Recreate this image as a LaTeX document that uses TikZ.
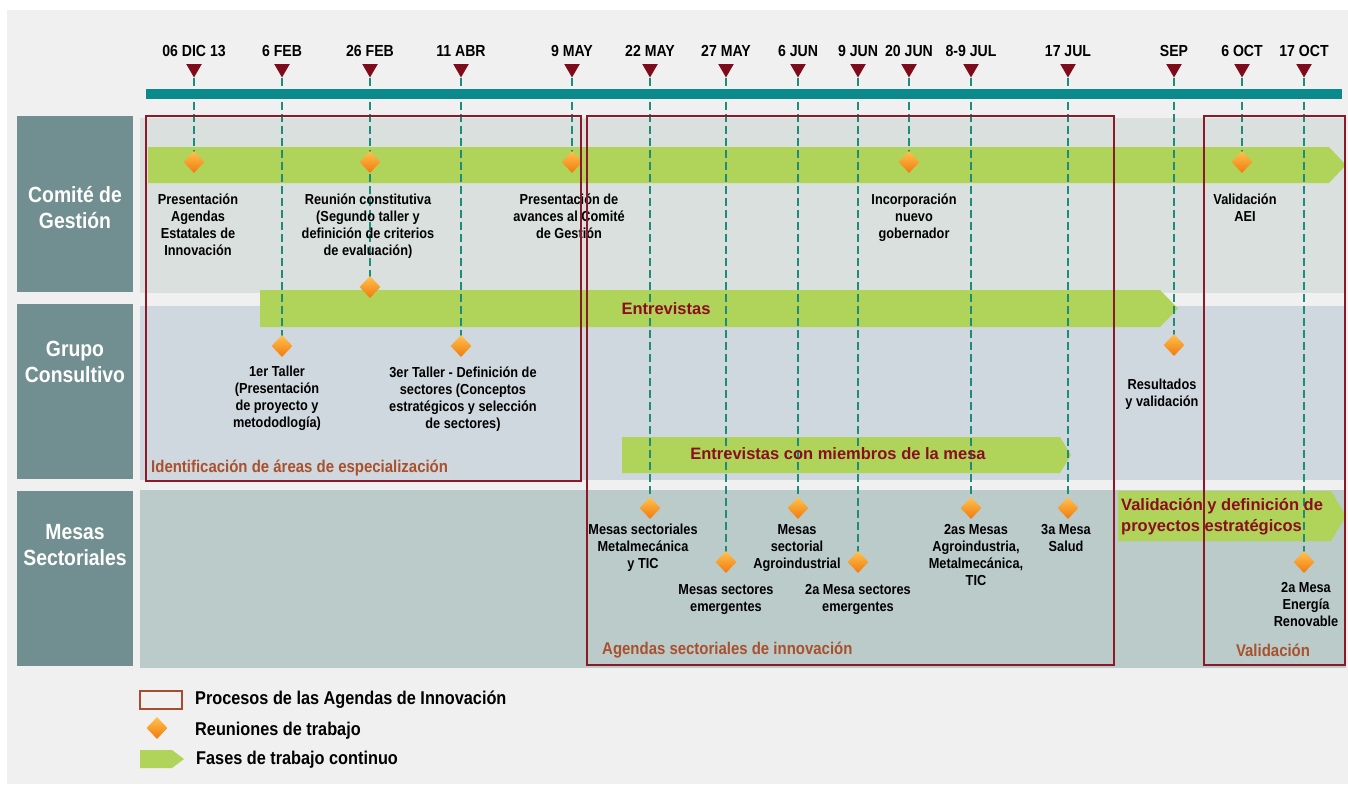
\documentclass[tikz,border=0pt]{standalone}
\usepackage{fontspec}
\setmainfont{Liberation Sans}[FakeStretch=0.88]
\newfontfamily\phasefont{Liberation Sans}
\usepackage{tikz}
\usetikzlibrary{positioning, shapes.geometric}

\definecolor{pagegray}{HTML}{F0F0F0}
\definecolor{rowtitle}{HTML}{718F90}
\definecolor{rowone}{HTML}{D9E0DE}
\definecolor{rowtwo}{HTML}{D0D8DF}
\definecolor{rowthree}{HTML}{BBCBCA}
\definecolor{axisteal}{HTML}{0B8A8E}
\definecolor{tickred}{HTML}{7E0B1B}
\definecolor{dashteal}{HTML}{1F8C7B}
\definecolor{phasegreen}{HTML}{B0D35A}
\definecolor{procred}{HTML}{8C1828}
\definecolor{proclabel}{HTML}{A9502C}
\definecolor{phasetext}{HTML}{8A0E1E}
\definecolor{legendred}{HTML}{A84B30}
\definecolor{meettop}{HTML}{FFC24E}
\definecolor{meetbot}{HTML}{F07A0E}

\pgfdeclarelayer{back}
\pgfdeclarelayer{mid}
\pgfdeclarelayer{front}
\pgfsetlayers{back,mid,main,front}

\tikzset{
  datelbl/.style={inner sep=0pt, font=\bfseries\fontsize{16}{18}\selectfont},
  datemark/.style={regular polygon, regular polygon sides=3, shape border rotate=180, fill=tickred, minimum size=18pt, inner sep=0pt},
  meetdia/.style={diamond, minimum width=21pt, minimum height=22pt, inner sep=0pt, top color=meettop, bottom color=meetbot},
  notetxt/.style={align=center, inner sep=0pt, font=\bfseries\fontsize{14.5}{17}\selectfont},
  rowbox/.style={fill=rowtitle, minimum width=116pt, minimum height=176pt, inner sep=0pt},
  rowtxt/.style={align=center, inner sep=0pt, text=white, font=\bfseries\fontsize{22}{26}\selectfont},
  proctxt/.style={inner sep=0pt, text=proclabel, font=\bfseries\fontsize{17}{19}\selectfont},
  phasetxt/.style={inner sep=0pt, text=phasetext, font=\phasefont\bfseries\fontsize{16.5}{21}\selectfont},
  guideline/.style={dashteal, line width=1.5pt, dash pattern=on 8pt off 4pt},
  procbox/.style={procred, line width=1.6pt},
  lgtxt/.style={anchor=west, inner sep=0pt, font=\bfseries\fontsize{18.5}{20}\selectfont},
}

\begin{document}
\begin{tikzpicture}[x=1pt, y=-1pt]
  \useasboundingbox (0,0) rectangle (1348,784);

  \begin{pgfonlayer}{back}
    \fill[white] (0,0) rectangle (1348,784);
    \fill[pagegray] (7,10) rectangle (1348,784);
    \fill[rowone] (140,118) rectangle (1346,293);
    \fill[rowtwo] (140,306) rectangle (1346,480);
    \fill[rowthree] (140,490) rectangle (1346,668);
    \fill[phasegreen] (148,147) -- (1329,147) -- (1346,165) -- (1329,183) -- (148,183) -- cycle;
    \fill[phasegreen] (260,290) -- (1160,290) -- (1178,308.5) -- (1160,327) -- (260,327) -- cycle;
    \fill[phasegreen] (622,437) -- (1060,437) -- (1071,455) -- (1060,473) -- (622,473) -- cycle;
    \fill[phasegreen] (1118,491) -- (1331,491) -- (1346,516) -- (1331,541) -- (1118,541) -- cycle;
  \end{pgfonlayer}

  \node[rowbox] (cgbox) at (75,204) {};
  \node[rowbox, minimum height=175pt] (gcbox) at (75,391.5) {};
  \node[rowbox, minimum height=175pt] (msbox) at (75,578.5) {};
  \node[rowtxt] (cg) at (75,208) {Comité de\\Gestión};
  \node[rowtxt] (gc) at (75,362) {Grupo\\Consultivo};
  \node[rowtxt] (ms) at (75,545) {Mesas\\Sectoriales};

  \fill[axisteal] (146,89) rectangle (1342,99);

  \foreach \x/\d/\n in {194/06 DIC 13/a, 282/6 FEB/b, 370/26 FEB/c, 461/11 ABR/d, 572/9 MAY/e,
      650/22 MAY/f, 726/27 MAY/g, 798/6 JUN/h, 858/9 JUN/i, 909/20 JUN/j, 971/8-9 JUL/k,
      1068/17 JUL/l, 1174/SEP/m, 1242/6 OCT/n, 1304/17 OCT/o} {
    \node[datelbl] (l\n) at (\x,51) {\d};
    \node[datemark] (t\n) at (\x,68.5) {};
  }

  \node[meetdia] (da) at (194,162) {};
  \node[meetdia] (dc1) at (370,162) {};
  \node[meetdia] (de) at (572,162) {};
  \node[meetdia] (dj) at (909,162) {};
  \node[meetdia] (dn) at (1242,162) {};
  \node[meetdia] (dc) at (370,287) {};
  \node[meetdia] (db) at (282,346) {};
  \node[meetdia] (dd) at (461,346) {};
  \node[meetdia] (dm) at (1174,345) {};
  \node[meetdia] (df) at (650,508) {};
  \node[meetdia] (dh) at (798,508) {};
  \node[meetdia] (dk) at (971,508) {};
  \node[meetdia] (dl) at (1068,508) {};
  \node[meetdia] (dg) at (726,562) {};
  \node[meetdia] (di) at (858,562) {};
  \node[meetdia] (do) at (1304,562) {};

  \begin{pgfonlayer}{mid}
    \foreach \n in {a,...,o} \draw[guideline] (t\n.south) -- (d\n.center);
  \end{pgfonlayer}

  \node[notetxt, below=20pt of da, xshift=4pt] (na) {Presentación\\Agendas\\Estatales de\\Innovación};
  \node[notetxt, below=20pt of dc1, xshift=-2pt] (nc) {Reunión constitutiva\\(Segundo taller y\\definición de criterios\\de evaluación)};
  \node[notetxt, below=20pt of de, xshift=-3pt] (ne) {Presentación de\\avances al Comité\\de Gestión};
  \node[notetxt, below=20pt of dj, xshift=5pt] (nj) {Incorporación\\nuevo\\gobernador};
  \node[notetxt, below=20pt of dn, xshift=3pt] (nn) {Validación\\AEI};
  \node[notetxt, below=9pt of db, xshift=-5pt] (nb) {1er Taller\\(Presentación\\de proyecto y\\metododlogía)};
  \node[notetxt, below=9pt of dd, xshift=2pt] (nd) {3er Taller - Definición de\\sectores (Conceptos\\estratégicos y selección\\de sectores)};
  \node[notetxt, below=23pt of dm, xshift=-12pt] (nm) {Resultados\\y validación};
  \node[notetxt, below=5pt of df, xshift=-7pt] (nf) {Mesas sectoriales\\Metalmecánica\\y TIC};
  \node[notetxt, below=11pt of dg] (ng) {Mesas sectores\\emergentes};
  \node[notetxt, below=5pt of dh, xshift=-1pt] (nh) {Mesas\\sectorial\\Agroindustrial};
  \node[notetxt, below=11pt of di] (ni) {2a Mesa sectores\\emergentes};
  \node[notetxt, below=5pt of dk, xshift=5pt] (nk) {2as Mesas\\Agroindustria,\\Metalmecánica,\\TIC};
  \node[notetxt, below=5pt of dl, xshift=-2pt] (nl) {3a Mesa\\Salud};
  \node[notetxt, below=9pt of do, xshift=2pt] (no) {2a Mesa\\Energía\\Renovable};

  \node[phasetxt] (ent) at (666,309) {Entrevistas};
  \node[phasetxt] (entm) at (838,454) {Entrevistas con miembros de la mesa};
  \node[phasetxt, align=left, anchor=north west] (valp) at (1121,498) {Validación y definición de\\proyectos estratégicos};

  \node[proctxt, anchor=west] (pa) at (151,468) {Identificación de áreas de especialización};
  \node[proctxt, anchor=west] (pb) at (602,650) {Agendas sectoriales de innovación};
  \node[proctxt] (pc) at (1273,650) {Validación};

  \begin{pgfonlayer}{front}
    \draw[procbox] (146,116) rectangle (581,481);
    \draw[procbox] (587,116) rectangle (1114,665);
    \draw[procbox] (1204,116) rectangle (1345,665);
  \end{pgfonlayer}

  \node[draw=legendred, line width=1.5pt, minimum width=42pt, minimum height=18pt, inner sep=0pt] (lgbox) at (161,700) {};
  \node[lgtxt] (lga) at (195,700) {Procesos de las Agendas de Innovación};
  \node[meetdia] (lgmeet) at (157,728) {};
  \node[lgtxt] (lgb) at (195,731) {Reuniones de trabajo};
  \fill[phasegreen] (140,750) -- (172,750) -- (184,759) -- (172,768) -- (140,768) -- cycle;
  \node[lgtxt] (lgc) at (196,760) {Fases de trabajo continuo};
\end{tikzpicture}
\end{document}
